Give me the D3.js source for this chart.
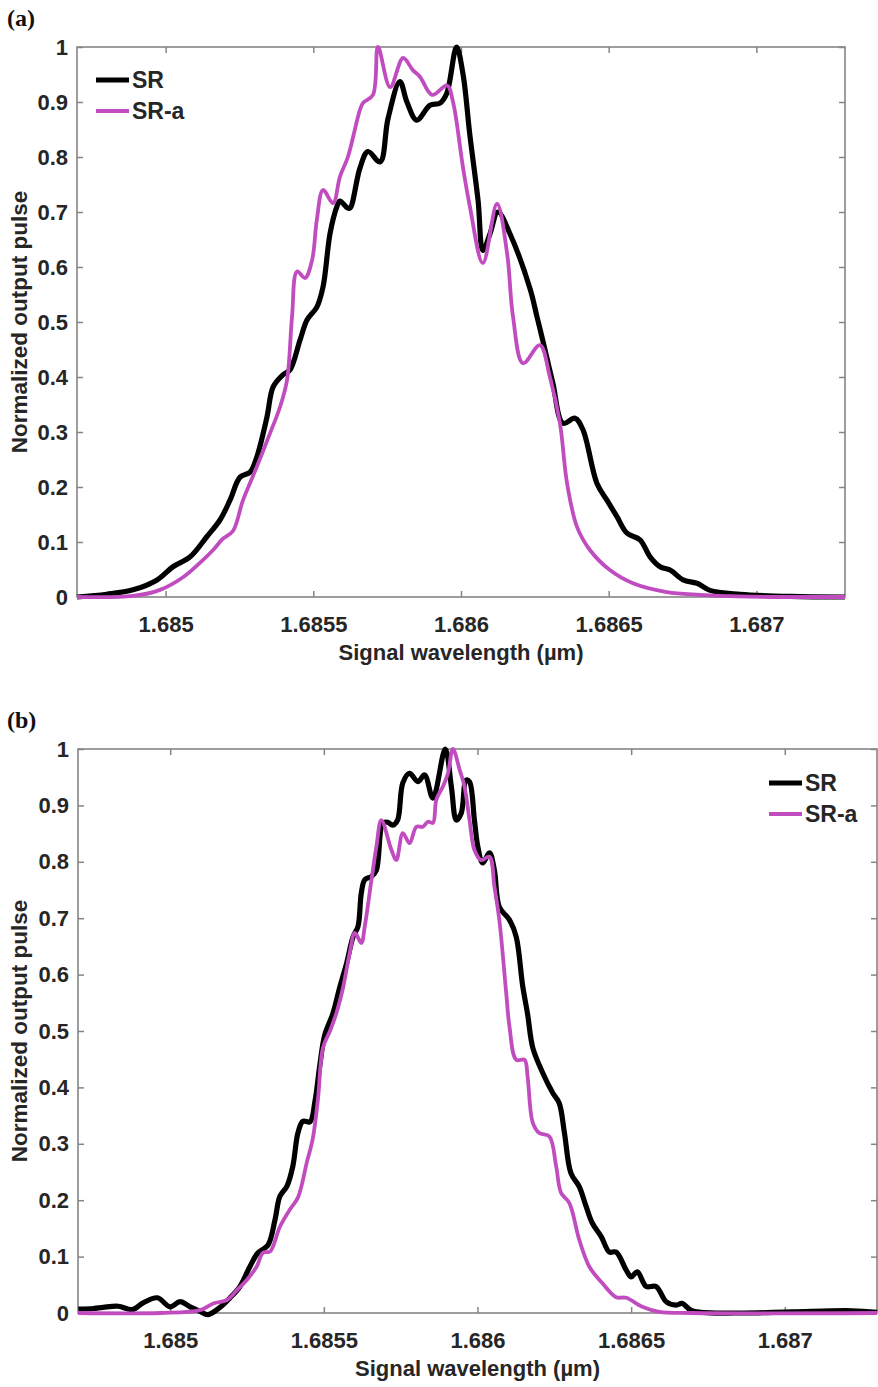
<!DOCTYPE html>
<html>
<head>
<meta charset="utf-8">
<script src="https://cdn.jsdelivr.net/npm/d3@7"></script>
<style>
  body { margin: 0; background: #fff; }
  svg text { font-family: "Liberation Sans", Arial, sans-serif; font-weight: bold; fill: #262626; }
</style>
</head>
<body>
<div id="chart"></div>
<script>
// wavelength (um), normalized output pulse
const srA = [[1.684700,0],[1.684800,0.005],[1.684890,0.013],[1.684971,0.031],[1.685025,0.055],[1.685083,0.073],[1.685140,0.11],[1.685184,0.14],[1.685218,0.176],[1.685252,0.218],[1.685286,0.227],[1.685309,0.255],[1.685343,0.327],[1.685364,0.382],[1.685397,0.404],[1.685421,0.413],[1.685455,0.467],[1.685479,0.504],[1.685512,0.527],[1.685533,0.564],[1.685557,0.662],[1.685580,0.71],[1.685590,0.72],[1.685614,0.708],[1.685624,0.707],[1.685658,0.78],[1.685685,0.81],[1.685726,0.791],[1.685753,0.87],[1.685793,0.937],[1.685817,0.90],[1.685850,0.867],[1.685895,0.894],[1.685929,0.898],[1.685952,0.916],[1.685985,1.0],[1.686007,0.95],[1.686030,0.84],[1.686058,0.72],[1.686074,0.63],[1.686098,0.66],[1.686125,0.70],[1.686166,0.66],[1.686234,0.56],[1.686257,0.51],[1.686278,0.464],[1.686311,0.389],[1.686345,0.316],[1.686386,0.325],[1.686413,0.304],[1.686460,0.207],[1.686494,0.176],[1.686528,0.146],[1.686562,0.116],[1.686606,0.104],[1.686640,0.073],[1.686674,0.055],[1.686708,0.049],[1.686752,0.031],[1.686799,0.025],[1.686843,0.012],[1.686945,0.005],[1.687114,0.001],[1.687300,0]];
const sraA = [[1.684700,0],[1.684890,0.002],[1.684981,0.013],[1.685059,0.036],[1.685116,0.062],[1.685160,0.085],[1.685194,0.106],[1.685228,0.12],[1.685262,0.176],[1.685309,0.237],[1.685353,0.297],[1.685387,0.345],[1.685411,0.394],[1.685428,0.51],[1.685445,0.592],[1.685472,0.58],[1.685496,0.613],[1.685512,0.686],[1.685533,0.74],[1.685567,0.716],[1.685590,0.764],[1.685617,0.80],[1.685658,0.886],[1.685668,0.898],[1.685702,0.913],[1.685719,1.0],[1.685760,0.927],[1.685804,0.98],[1.685837,0.958],[1.685861,0.946],[1.685902,0.913],[1.685953,0.93],[1.685973,0.90],[1.686007,0.78],[1.686030,0.71],[1.686074,0.607],[1.686122,0.715],[1.686156,0.625],[1.686176,0.51],[1.686210,0.425],[1.686267,0.458],[1.686301,0.40],[1.686335,0.316],[1.686359,0.207],[1.686393,0.127],[1.686437,0.085],[1.686504,0.049],[1.686582,0.025],[1.686697,0.009],[1.686809,0.004],[1.686940,0.001],[1.687300,0]];
const srB = [[1.684701,0.007],[1.68475,0.008],[1.684782,0.01],[1.684831,0.012],[1.684877,0.006],[1.684912,0.018],[1.684958,0.027],[1.685,0.011],[1.685032,0.02],[1.685065,0.011],[1.685097,0.003],[1.685123,-0.003],[1.685162,0.01],[1.685195,0.027],[1.685227,0.047],[1.68526,0.083],[1.685286,0.107],[1.685318,0.12],[1.685341,0.165],[1.685357,0.207],[1.68538,0.225],[1.685399,0.26],[1.685416,0.32],[1.685432,0.34],[1.685455,0.339],[1.685471,0.375],[1.685487,0.44],[1.685503,0.493],[1.68553,0.532],[1.685552,0.578],[1.685574,0.62],[1.685595,0.667],[1.685611,0.685],[1.685622,0.745],[1.685633,0.768],[1.685655,0.774],[1.685671,0.785],[1.685692,0.869],[1.685708,0.87],[1.685724,0.865],[1.68574,0.874],[1.685757,0.94],[1.685779,0.957],[1.685806,0.942],[1.685828,0.954],[1.685855,0.913],[1.685895,1.0],[1.685915,0.933],[1.685931,0.874],[1.685947,0.886],[1.685963,0.945],[1.685974,0.942],[1.68599,0.874],[1.686001,0.827],[1.686017,0.798],[1.686039,0.816],[1.686055,0.785],[1.686071,0.72],[1.686104,0.697],[1.686126,0.667],[1.686147,0.58],[1.686163,0.53],[1.68618,0.47],[1.686212,0.426],[1.686245,0.39],[1.686266,0.372],[1.686283,0.319],[1.686304,0.248],[1.686331,0.224],[1.686354,0.188],[1.686373,0.16],[1.686403,0.135],[1.686429,0.108],[1.686451,0.108],[1.686484,0.076],[1.6865,0.064],[1.68652,0.073],[1.686549,0.047],[1.686581,0.047],[1.686614,0.02],[1.686646,0.014],[1.686666,0.017],[1.686698,0.004],[1.686851,0],[1.687023,0.002],[1.687218,0.004],[1.6873,0.001]];
const sraB = [[1.6847,0],[1.684968,0],[1.685097,0.005],[1.68514,0.017],[1.685185,0.023],[1.685218,0.041],[1.68525,0.059],[1.685282,0.083],[1.685302,0.107],[1.685325,0.109],[1.685357,0.153],[1.68539,0.184],[1.685416,0.205],[1.685445,0.268],[1.685464,0.309],[1.685481,0.38],[1.685497,0.47],[1.68552,0.5],[1.685541,0.532],[1.685563,0.578],[1.685584,0.638],[1.685601,0.674],[1.685622,0.656],[1.685633,0.685],[1.685655,0.768],[1.685671,0.827],[1.685687,0.874],[1.68572,0.821],[1.685736,0.803],[1.685757,0.851],[1.685779,0.833],[1.685801,0.862],[1.685822,0.862],[1.685839,0.871],[1.685855,0.869],[1.685866,0.91],[1.685887,0.933],[1.685904,0.957],[1.68592,1.0],[1.685942,0.963],[1.685958,0.933],[1.685974,0.874],[1.68599,0.821],[1.686012,0.803],[1.686039,0.809],[1.686055,0.756],[1.686071,0.697],[1.686093,0.57],[1.686104,0.508],[1.686126,0.449],[1.686153,0.449],[1.686163,0.419],[1.68618,0.337],[1.686201,0.319],[1.686234,0.313],[1.686256,0.26],[1.686272,0.213],[1.686299,0.195],[1.686331,0.13],[1.686364,0.082],[1.686406,0.053],[1.686451,0.028],[1.686484,0.027],[1.686536,0.011],[1.686591,0.002],[1.686698,0],[1.6873,0]];

const seriesNames = ["SR", "SR-a"];
const seriesColors = ["#000000", "#c04cc0"];
const xTicks = [1.685, 1.6855, 1.686, 1.6865, 1.687];
const yTicks = [0, 0.1, 0.2, 0.3, 0.4, 0.5, 0.6, 0.7, 0.8, 0.9, 1];
const xDomain = [1.6847, 1.6873];

const svg = d3.select('#chart').append('svg')
  .attr('width', 878)
  .attr('height', 1387);

function drawPanel(p){
  let x = d3.scaleLinear().domain(xDomain).range([p.left, p.right]);
  let y = d3.scaleLinear().domain([0, 1]).range([p.bottom, p.top]);
  let g = svg.append('g');
  let axisColor = '#858585';

  g.append('text')
    .attr('x', 7).attr('y', p.top - 21)
    .style('font-family', '"Liberation Serif", "Times New Roman", serif')
    .style('font-size', '24px')
    .style('fill', '#111')
    .text(p.tag);

  let fmt = d3.format('~g');
  let bx = g.append('g').attr('transform', 'translate(0,' + p.bottom + ')')
    .call(d3.axisBottom(x).tickValues(xTicks).tickFormat(fmt).tickSizeInner(-6).tickSizeOuter(0).tickPadding(19));
  let tx = g.append('g').attr('transform', 'translate(0,' + p.top + ')')
    .call(d3.axisTop(x).tickValues(xTicks).tickFormat('').tickSizeInner(-6).tickSizeOuter(0));
  let ly = g.append('g').attr('transform', 'translate(' + p.left + ',0)')
    .call(d3.axisLeft(y).tickValues(yTicks).tickFormat(fmt).tickSizeInner(-6).tickSizeOuter(0).tickPadding(9));
  let ry = g.append('g').attr('transform', 'translate(' + p.right + ',0)')
    .call(d3.axisRight(y).tickValues(yTicks).tickFormat('').tickSizeInner(-6).tickSizeOuter(0));
  [bx, tx, ly, ry].forEach(function(a){
    a.select('.domain').remove();
    a.selectAll('line').attr('stroke', axisColor).attr('stroke-width', 1.5);
    a.selectAll('text').style('font-size', '22px').style('font-family', '"Liberation Sans", Arial, sans-serif').attr('fill', '#262626');
  });

  g.append('rect')
    .attr('x', p.left).attr('y', p.top)
    .attr('width', p.right - p.left).attr('height', p.bottom - p.top)
    .attr('fill', 'none').attr('stroke', axisColor).attr('stroke-width', 1.6);

  g.append('text')
    .attr('x', (p.left + p.right) / 2).attr('y', p.bottom + 63)
    .attr('text-anchor', 'middle')
    .style('font-size', '22px')
    .text('Signal wavelength (µm)');
  g.append('text')
    .attr('transform', 'translate(27,' + ((p.top + p.bottom) / 2) + ') rotate(-90)')
    .attr('text-anchor', 'middle')
    .style('font-size', '22.5px')
    .text('Normalized output pulse');

  let line = d3.line()
    .x(function(d){ return x(d[0]); })
    .y(function(d){ return y(d[1]); })
    .curve(d3.curveCatmullRom.alpha(0.5));
  let widths = [5.2, 3.8];
  [p.sr, p.sra].forEach(function(s, i){
    g.append('path')
      .attr('d', line(s))
      .attr('fill', 'none')
      .attr('stroke', seriesColors[i])
      .attr('stroke-width', widths[i])
      .attr('stroke-linejoin', 'round');
  });

  let lg = g.append('g').attr('transform', 'translate(' + p.legX + ',' + p.legY + ')');
  seriesNames.forEach(function(n, i){
    lg.append('line')
      .attr('x1', 0).attr('x2', 33)
      .attr('y1', i * 31).attr('y2', i * 31)
      .attr('stroke', seriesColors[i])
      .attr('stroke-width', widths[i]);
    lg.append('text')
      .attr('x', 36).attr('y', i * 31 + 8)
      .style('font-size', '23px')
      .text(n);
  });
}

drawPanel({ tag: '(a)', left: 77, right: 845, top: 47, bottom: 597, sr: srA, sra: sraA, legX: 96, legY: 80 });
drawPanel({ tag: '(b)', left: 78, right: 877, top: 749, bottom: 1313, sr: srB, sra: sraB, legX: 769, legY: 783 });
</script>
</body>
</html>
